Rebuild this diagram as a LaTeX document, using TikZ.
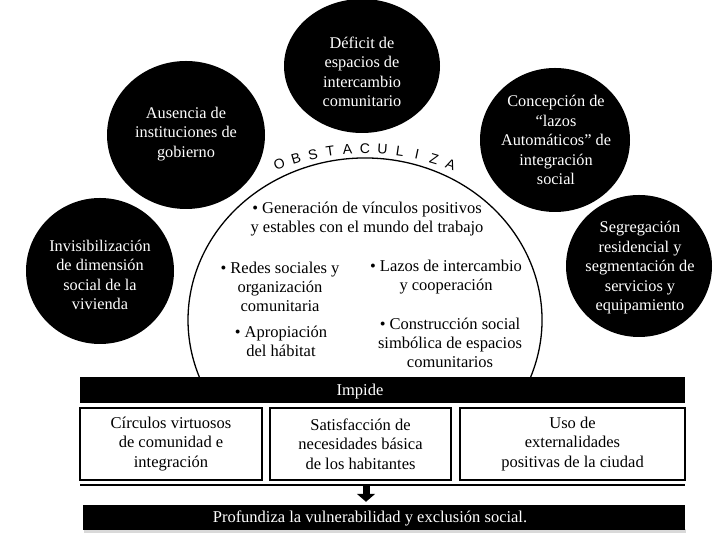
\documentclass[tikz,border=0pt]{standalone}
\usepackage{fontspec}
\setmainfont{Liberation Serif}
\setsansfont{Liberation Sans}
\usetikzlibrary{shapes.geometric,arrows.meta,calc}
\begin{document}
\begin{tikzpicture}[x=1pt,y=1pt,
  blob/.style={ellipse, fill=black, inner sep=0pt},
  blobtext/.style={text=white, align=center, inner sep=0pt, font=\fontsize{16.3}{19.5}\selectfont},
  innertext/.style={align=center, inner sep=0pt, font=\fontsize{16.5}{19}\selectfont},
  barbox/.style={fill=black, inner sep=0pt},
  bartext/.style={text=white, inner sep=0pt, font=\fontsize{16.5}{19}\selectfont},
  boxnode/.style={draw=black, line width=1.6pt, align=center, inner sep=0pt, minimum height=72, font=\fontsize{16.5}{19.5}\selectfont},
  obst/.style={inner sep=0pt, font=\sffamily\fontsize{14}{14}\selectfont}]
\useasboundingbox (0,0) rectangle (713,537);

% black circles
\node[blob, minimum width=156, minimum height=134] (def) at (362,471) {};
\node[blobtext] (deft) at (362,465) {Déficit de\\espacios de\\intercambio\\comunitario};
\node[blob, minimum width=158, minimum height=148] (aus) at (186,402) {};
\node[blobtext] (aust) at (186,403) {Ausencia de\\instituciones de\\gobierno};
\node[blob, minimum width=148, minimum height=146] (inv) at (100,266) {};
\node[blobtext] (invt) at (100,262) {Invisibilización\\de dimensión\\social de la\\vivienda};
\node[blob, minimum width=150, minimum height=144] (con) at (555,397) {};
\node[blobtext] (cont) at (556,397) {Concepción de\\“lazos\\Automáticos” de\\integración\\social};
\node[blob, minimum width=146, minimum height=142] (seg) at (639,271) {};
\node[blobtext] (segt) at (640,269) {Segregación\\residencial y\\segmentación de\\servicios y\\equipamiento};

% big arc
\coordinate (arcc) at (365,217);
\draw[line width=1.3pt] (arcc) ++(-20.6:177 and 162)
  arc[start angle=-20.6, end angle=200.6, x radius=177, y radius=162];

% OBSTACULIZA
\coordinate (obc) at (365,143.5);
\foreach \l [count=\i] in {O,B,S,T,A,C,U,L,I,Z,A}{
  \pgfmathsetmacro\ang{110.5-4.1*(\i-1)}
  \pgfmathsetmacro\rot{\ang-90}
  \node[obst, rotate=\rot] (ob\i) at ($(obc)+(\ang:244.5)$) {\l};
}

% inner texts
\node[innertext] (gen) at (367,318) {• Generación de vínculos positivos\\y estables con el mundo del trabajo};
\node[innertext] (redes) at (280,250) {• Redes sociales y\\organización\\comunitaria};
\node[innertext] (aprop) at (281,196) {• Apropiación\\del hábitat};
\node[innertext] (lazos) at (446,259.5) {• Lazos de intercambio\\y cooperación};
\node[innertext] (constr) at (450,194) {• Construcción social\\simbólica de espacios\\comunitarios};

% Impide bar
\node[barbox, minimum width=605, minimum height=26] (impide) at (382.5,147) {};
\node[bartext] (impidet) at (360,145) {Impide};

% boxes
\node[boxnode, minimum width=182] (b1) at (171,93) {Círculos virtuosos\\de comunidad e\\integración};
\node[boxnode, minimum width=181] (b2) at (360.5,93) {Satisfacción de\\necesidades básica\\de los habitantes};
\node[boxnode, minimum width=225] (b3) at (572.5,93) {Uso de\\externalidades\\positivas de la ciudad};

% thick line
\coordinate (ll) at (80,52);
\coordinate (lr) at (685,52);
\draw[line width=2.5pt] (ll) -- (lr);

% bottom bar
\fill[black!15] (84,4) rectangle (686,8);
\node[barbox, minimum width=602, minimum height=25] (prof) at (384,19.5) {};
\node[bartext] (proft) at (370,18.5) {Profundiza la vulnerabilidad y exclusión social.};

% arrow
\coordinate (atop) at (366,51);
\draw[line width=7pt, -{Triangle[width=18pt,length=8pt]}] (atop) -- ($(prof.north -| atop)+(0,3)$);
\end{tikzpicture}
\end{document}
